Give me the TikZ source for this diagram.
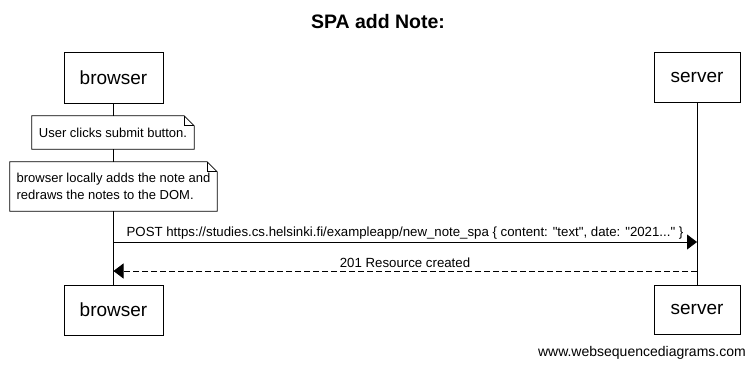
\documentclass[tikz,border=0pt]{standalone}
\usepackage{fontspec}
\setmainfont{Liberation Sans}
\usetikzlibrary{arrows.meta,calc}
\tikzset{
  actor/.style={draw, line width=0.8pt, fill=white, inner sep=0pt,
    font=\fontsize{19}{22}\selectfont},
  notebox/.style={fill=white, inner xsep=6pt, inner ysep=0pt, align=left,
    font=\fontsize{13}{17}\selectfont},
  lifeline/.style={line width=0.8pt},
  msg/.style={line width=0.8pt, -{Triangle[length=10pt,width=15pt]}},
  reply/.style={msg, dash pattern=on 6pt off 3pt},
  msglabel/.style={font=\fontsize{13.25}{16}\selectfont, inner sep=0pt},
}
% draws the outline of a note with a folded upper-right corner
\newcommand{\foldnote}[1]{%
  \draw[line width=0.8pt] (#1.south west) -- (#1.north west)
    -- ([xshift=-10pt]#1.north east) -- ([yshift=-10pt]#1.north east)
    -- (#1.south east) -- cycle;
  \draw[line width=0.8pt] ([xshift=-10pt]#1.north east)
    -- ([xshift=-10pt,yshift=-10pt]#1.north east) -- ([yshift=-10pt]#1.north east);
}
\begin{document}
\begin{tikzpicture}[x=1pt,y=-1pt]
\useasboundingbox (0,0) rectangle (755,368);

% title
\node (title) at (378,22) {\fontsize{19.5}{22}\selectfont\bfseries SPA add Note:};

% participants, top and bottom
\node[actor, minimum width=99pt, minimum height=51pt] (bt) at (113.5,77.5) {browser};
\node[actor, minimum width=86pt, minimum height=50pt] (st) at (697,77.5) {server};
\node[actor, minimum width=99pt, minimum height=50pt] (bb) at (113.5,310) {browser};
\node[actor, minimum width=86pt, minimum height=49pt] (sb) at (697,309.5) {server};

% lifelines
\draw[lifeline] (bt.south) -- (bb.north);
\draw[lifeline] (st.south) -- (sb.north);

% notes over the browser
\node[notebox, minimum width=162pt, minimum height=33pt] (n1) at (113,132.5) {User clicks submit button.};
\foldnote{n1}
\node[notebox, minimum width=207pt, minimum height=49pt] (n2) at (113.5,186.5) {browser locally adds the note and\\redraws the notes to the DOM.};
\foldnote{n2}

% messages
\coordinate (m1s) at (bt.south |- 0,242);
\coordinate (m1e) at (st.south |- 0,242);
\coordinate (m2s) at (st.south |- 0,271);
\coordinate (m2e) at (bt.south |- 0,271);
\draw[msg] (m1s) -- (m1e);
\node[msglabel] (l1) at (405,233) {POST https://studies.cs.helsinki.fi/exampleapp/new\_note\_spa \{ content: \textquotedbl text\textquotedbl, date: \textquotedbl 2021...\textquotedbl\ \}};
\draw[reply] (m2s) -- (m2e);
\node[msglabel] (l2) at (405,263) {201 Resource created};

% footer
\node[anchor=east, inner sep=0pt, font=\fontsize{14}{16}\selectfont] (foot) at (746,353) {www.websequencediagrams.com};
\end{tikzpicture}
\end{document}
